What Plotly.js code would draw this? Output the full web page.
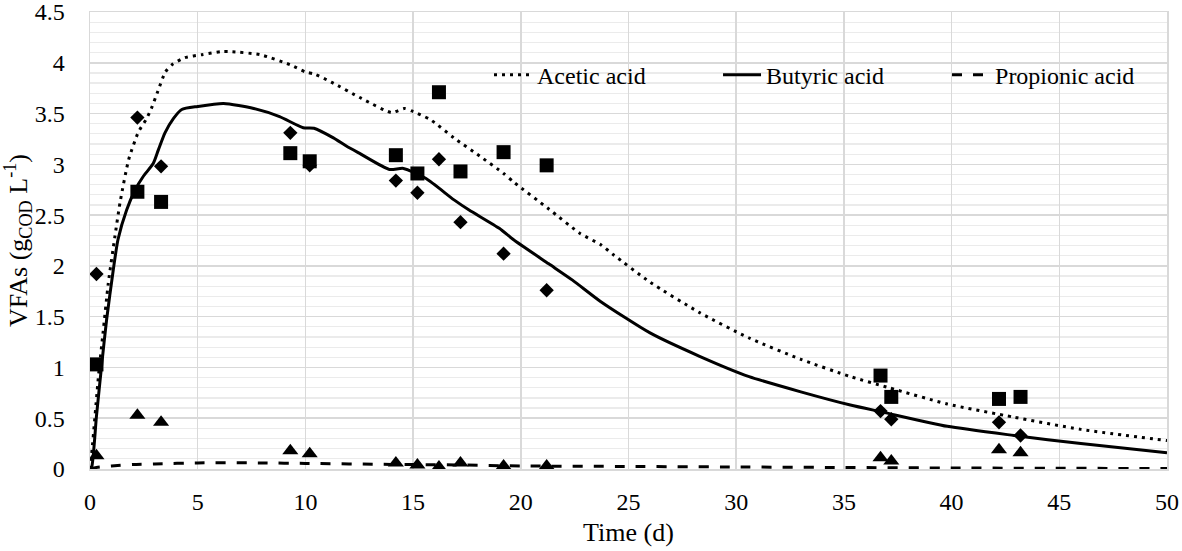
<!DOCTYPE html>
<html>
<head>
<meta charset="utf-8">
<script src="https://cdn.plot.ly/plotly-3.0.1.min.js"></script>
<style>html,body{margin:0;padding:0;background:#fff;}#chart{width:1182px;height:551px;}</style>
</head>
<body>
<div id="chart"></div>
<script>
// Model curves
const aceticTime = [0, 0.1, 0.4, 0.6, 0.85, 1.15, 1.4, 1.8, 2.25, 2.6, 2.85, 3.15, 3.5, 3.8, 4.4, 5.2, 6.1, 6.5, 7.9, 9.3, 10.0, 10.4, 11.2, 12.6, 14.0, 14.6, 15.0, 15.8, 16.9, 18.1, 19.2, 19.7, 21.3, 22.75, 23.7, 24.3, 26.0, 28.3, 30.6, 33.0, 35.3, 37.1, 39.8, 42.9, 46.0, 50.0];
const aceticModel = [0, 0.2, 0.93, 1.33, 1.83, 2.28, 2.63, 3.05, 3.32, 3.44, 3.55, 3.72, 3.91, 3.98, 4.05, 4.08, 4.11, 4.11, 4.08, 3.98, 3.91, 3.89, 3.81, 3.65, 3.51, 3.55, 3.52, 3.44, 3.26, 3.08, 2.91, 2.82, 2.56, 2.32, 2.21, 2.11, 1.84, 1.54, 1.29, 1.08, 0.91, 0.80, 0.64, 0.51, 0.39, 0.28];

const butyricTime = [0, 0.08, 0.3, 0.55, 0.77, 1.08, 1.3, 1.7, 2.1, 2.47, 2.94, 3.17, 3.48, 3.87, 4.26, 5.0, 6.2, 7.6, 8.8, 9.9, 10.4, 11.3, 11.9, 12.5, 13.9, 14.55, 15.6, 16.9, 17.6, 19.0, 19.65, 21.3, 22.4, 23.7, 26.0, 28.3, 30.6, 33.0, 35.3, 36.8, 39.8, 42.9, 46.0, 50.0];
const butyricModel = [0, 0.02, 0.52, 1.04, 1.47, 1.96, 2.26, 2.55, 2.75, 2.88, 3.01, 3.14, 3.31, 3.45, 3.54, 3.57, 3.60, 3.55, 3.47, 3.36, 3.355, 3.26, 3.18, 3.11, 2.95, 2.96, 2.86, 2.65, 2.55, 2.37, 2.26, 2.02, 1.86, 1.65, 1.34, 1.11, 0.91, 0.76, 0.63, 0.56, 0.42, 0.33, 0.25, 0.16];

const propionicTime = [0, 0.3, 1, 2, 3, 5, 8, 10, 14, 17, 20, 25, 30, 35, 40, 45, 50];
const propionicModel = [0, 0.015, 0.03, 0.045, 0.05, 0.06, 0.06, 0.055, 0.045, 0.04, 0.03, 0.025, 0.02, 0.015, 0.01, 0.007, 0.005];

// Measured points
const measTime = [0.3, 2.2, 3.3, 9.3, 10.2, 14.2, 15.2, 16.2, 17.2, 19.2, 21.2, 36.7, 37.2, 42.2, 43.2];
const measDiamond = [1.92, 3.46, 2.98, 3.31, 2.99, 2.84, 2.72, 3.05, 2.43, 2.12, 1.76, 0.57, 0.49, 0.46, 0.33];
const measSquare = [1.03, 2.73, 2.63, 3.11, 3.03, 3.09, 2.91, 3.71, 2.93, 3.12, 2.99, 0.92, 0.71, 0.69, 0.71];
const measTriangle = [0.13, 0.53, 0.46, 0.18, 0.15, 0.06, 0.04, 0.02, 0.06, 0.03, 0.03, 0.11, 0.08, 0.19, 0.16];

const seriesNames = ['Acetic acid', 'Butyric acid', 'Propionic acid'];

const FONT = '"Liberation Serif", "Times New Roman", serif';

const traces = [
  {x: measTime, y: measDiamond, mode: 'markers', showlegend: false,
   marker: {symbol: 'diamond', size: 11, color: '#000'}},
  {x: measTime, y: measSquare, mode: 'markers', showlegend: false,
   marker: {symbol: 'square', size: 14, color: '#000'}},
  {x: measTime, y: measTriangle, mode: 'markers', showlegend: false,
   marker: {symbol: 'triangle-up', size: 14, color: '#000'}},
  {x: aceticTime, y: aceticModel, mode: 'lines', name: seriesNames[0],
   line: {color: '#000', width: 3, dash: '3px,5px', shape: 'spline', smoothing: 0.6}},
  {x: butyricTime, y: butyricModel, mode: 'lines', name: seriesNames[1],
   line: {color: '#000', width: 3, shape: 'spline', smoothing: 0.6}},
  {x: propionicTime, y: propionicModel, mode: 'lines', name: seriesNames[2],
   line: {color: '#000', width: 3, dash: '10px,11px', shape: 'spline', smoothing: 0.6}}
];

const layout = {
  width: 1182, height: 551,
  margin: {l: 90, r: 15, t: 12, b: 82, autoexpand: false},
  paper_bgcolor: '#fff', plot_bgcolor: '#fff',
  font: {family: FONT, color: '#000', size: 24},
  showlegend: true,
  legend: {
    orientation: 'h', x: 0.3705, xanchor: 'left', y: 0.862, yanchor: 'middle',
    bgcolor: 'rgba(0,0,0,0)', font: {family: FONT, size: 24, color: '#000'},
    itemwidth: 38, entrywidth: 176, entrywidthmode: 'pixels',
    traceorder: 'normal'
  },
  xaxis: {
    range: [0, 50], tick0: 0, dtick: 5, ticks: '',
    showgrid: true, gridcolor: '#d9d9d9', gridwidth: 1.5,
    zeroline: false, showline: true, linecolor: '#d9d9d9', linewidth: 1.5, mirror: true,
    ticklabelstandoff: 11, ticklabeloverflow: 'allow',
    tickfont: {family: FONT, size: 24, color: '#000'},
    title: {text: 'Time (d)', font: {family: FONT, size: 26, color: '#000'}, standoff: 8}
  },
  yaxis: {
    range: [0, 4.5], tick0: 0, dtick: 0.5, ticks: '',
    showgrid: true, gridcolor: '#d9d9d9', gridwidth: 1.5,
    minor: {dtick: 0.1, showgrid: true, gridcolor: '#ebebeb', gridwidth: 1.2, ticks: ''},
    zeroline: false, showline: true, linecolor: '#d9d9d9', linewidth: 1.5, mirror: true,
    ticklabelstandoff: 19, ticklabeloverflow: 'allow',
    tickfont: {family: FONT, size: 24, color: '#000'},
    title: {text: 'VFAs (g<sub>COD</sub> L<sup>-1</sup>)', font: {family: FONT, size: 26, color: '#000'}, standoff: 8}
  }
};

Plotly.newPlot('chart', traces, layout, {displayModeBar: false, staticPlot: true});
</script>
</body>
</html>
